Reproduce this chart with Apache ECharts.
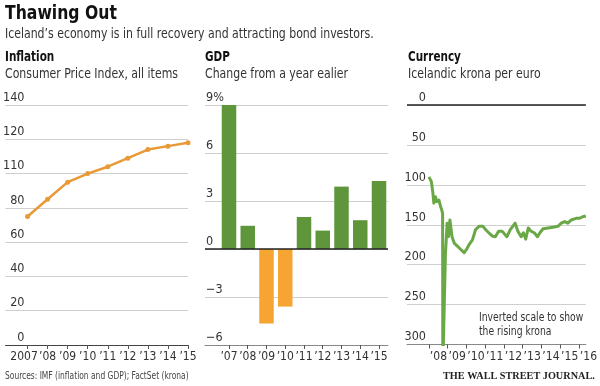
<!DOCTYPE html>
<html><head><meta charset="utf-8">
<script src="https://cdn.jsdelivr.net/npm/echarts@6/dist/echarts.min.js"></script>
<style>html,body{margin:0;padding:0;background:#fff}#c{width:600px;height:386px}</style>
</head><body><div id="c"></div>
<script>
// ---- data ----
const years = [2007, 2008, 2009, 2010, 2011, 2012, 2013, 2014, 2015];
const cpiYearLabels = ['2007', '’08', '’09', '’10', '’11', '’12', '’13', '’14', '’15'];
const cpi = [75, 85, 95, 100, 104, 109, 114, 116, 118];
const cpiTickValues = [0, 20, 40, 60, 80, 100, 120, 140];
const cpiTickLabels = ['0', '20', '40', '60', '80', '110', '120', '140'];

const gdpYearLabels = ['’07', '’08', '’09', '’10', '’11', '’12', '’13', '’14', '’15'];
const gdp = [9.5, 1.45, -4.65, -3.6, 2.0, 1.15, 3.9, 1.8, 4.25];

const fxTickYears = [2008, 2009, 2010, 2011, 2012, 2013, 2014, 2015, 2016];
const fxYearLabels = ['’08', '’09', '’10', '’11', '’12', '’13', '’14', '’15', '’16'];
const fxDates = [2008.00, 2008.13, 2008.21, 2008.26, 2008.35, 2008.42, 2008.53, 2008.62, 2008.68, 2008.73,
  2008.74, 2008.76, 2008.88, 2008.97, 2009.04, 2009.12, 2009.17, 2009.23, 2009.35, 2009.53,
  2009.70, 2009.88, 2010.00, 2010.14, 2010.32, 2010.49, 2010.67, 2010.76, 2010.88, 2011.02,
  2011.19, 2011.37, 2011.54, 2011.72, 2011.90, 2011.98, 2012.16, 2012.34, 2012.60, 2012.74,
  2012.92, 2013.04, 2013.16, 2013.30, 2013.44, 2013.62, 2013.79, 2013.92, 2014.09, 2014.36,
  2014.62, 2014.88, 2015.06, 2015.24, 2015.41, 2015.59, 2015.85, 2016.02, 2016.20, 2016.37];
const fxValues = [90, 96, 110, 123, 115, 121, 119, 127, 131, 136,
  330, 330, 187, 148, 165, 144, 142, 165, 173, 177,
  181, 185, 181, 175, 169, 156, 152, 154, 152, 156,
  160, 164, 165, 158, 158, 160, 165, 156, 148, 158,
  165, 160, 168, 154, 158, 160, 165, 160, 155, 154,
  153, 152, 148, 146, 148, 144, 142, 142, 140, 139];

// ---- style ----
const FONT = "'Liberation Sans Narrow', 'DejaVu Sans Condensed', 'Roboto', sans-serif";
const TXT = '#333';
const GRIDC = '#cfcfcf';
const ORANGE_LINE = '#e99a36';
const ORANGE_BAR = '#f6a532';
const GREEN_BAR = '#5f963c';
const GREEN_LINE = '#6aa847';

const chart = echarts.init(document.getElementById('c'), null, {renderer: 'canvas'});

const labelBase = {color: TXT, fontFamily: FONT, fontSize: 12};
const tickStyle = {show: true, length: 4, lineStyle: {color: '#555', width: 1}};

function txt(left, top, text, size, opts) {
  opts = opts || {};
  return {
    type: 'text', left: left, top: top,
    scaleX: opts.sx || 1, originX: 0,
    style: {
      text: text, fontFamily: opts.font || FONT, fontWeight: opts.bold ? 'bold' : 'normal',
      fontSize: size, lineHeight: opts.lh, fill: opts.fill || TXT
    }
  };
}

const option = {
  animation: false,
  backgroundColor: '#fff',
  textStyle: {fontFamily: FONT},
  grid: [
    {left: 4, right: 412, top: 105, bottom: 41},
    {left: 205, right: 212, top: 105, bottom: 41},
    {left: 407, right: 12, top: 105, bottom: 41.5}
  ],
  xAxis: [
    {
      gridIndex: 0, type: 'value', min: 2005.9, max: 2015, position: 'bottom',
      axisLine: {show: true, lineStyle: {color: '#444', width: 1}},
      axisTick: Object.assign({customValues: years}, tickStyle),
      axisLabel: Object.assign({}, labelBase, {
        customValues: years.slice(1), margin: 6, showMinLabel: true, showMaxLabel: true,
        formatter: v => cpiYearLabels[years.indexOf(Math.round(v))]
      }),
      splitLine: {show: false}
    },
    {
      gridIndex: 1, type: 'value', min: 2005.72, max: 2015.48,
      axisLine: {show: true, onZero: false, lineStyle: {color: '#888', width: 1}},
      axisTick: Object.assign({customValues: years}, tickStyle),
      axisLabel: Object.assign({}, labelBase, {
        customValues: years, margin: 6, showMinLabel: true, showMaxLabel: true,
        formatter: v => gdpYearLabels[years.indexOf(Math.round(v))]
      }),
      splitLine: {show: false}
    },
    {
      gridIndex: 2, type: 'value', min: 2006.83, max: 2016.37,
      axisLine: {show: true, onZero: false, lineStyle: {color: '#888', width: 1}},
      axisTick: Object.assign({customValues: fxTickYears}, tickStyle),
      axisLabel: Object.assign({}, labelBase, {
        customValues: fxTickYears, margin: 6, padding: [0, 0, 0, 19],
        showMinLabel: true, showMaxLabel: true,
        formatter: v => fxYearLabels[fxTickYears.indexOf(Math.round(v))]
      }),
      splitLine: {show: false}
    },
    {
      // first-year label of the inflation panel, on its own axis so it is never dropped
      gridIndex: 0, type: 'value', min: 2005.9, max: 2015, position: 'bottom', offset: 0,
      axisLine: {show: false}, axisTick: {show: false}, splitLine: {show: false},
      axisLabel: Object.assign({}, labelBase, {
        customValues: years.slice(0, 1), margin: 6, padding: [0, 7, 0, 0], showMinLabel: true,
        formatter: v => cpiYearLabels[years.indexOf(Math.round(v))]
      })
    }
  ],
  yAxis: [
    {
      gridIndex: 0, type: 'value', min: 0, max: 140, interval: 20,
      axisLine: {show: false}, axisTick: {show: false},
      axisLabel: Object.assign({}, labelBase, {
        fontSize: 12.5, align: 'right', verticalAlign: 'bottom', margin: -19, padding: [0, 0, 1, 0],
        formatter: v => cpiTickLabels[cpiTickValues.indexOf(v)]
      }),
      splitLine: {show: true, lineStyle: {color: GRIDC, width: 1}}
    },
    {
      gridIndex: 1, type: 'value', min: -6, max: 9, interval: 3,
      axisLine: {show: false}, axisTick: {show: false},
      axisLabel: Object.assign({}, labelBase, {
        fontSize: 12.5, align: 'left', verticalAlign: 'bottom', margin: -1, padding: [0, 0, 1, 0],
        formatter: v => v === 9 ? '9%' : (v < 0 ? '−' + Math.abs(v) : String(v))
      }),
      splitLine: {show: true, lineStyle: {color: GRIDC, width: 1}}
    },
    {
      gridIndex: 2, type: 'value', min: 0, max: 300, interval: 50, inverse: true,
      axisLine: {show: false}, axisTick: {show: false},
      axisLabel: Object.assign({}, labelBase, {
        fontSize: 12.5, align: 'right', verticalAlign: 'bottom', margin: -19, padding: [0, 0, 1, 0]
      }),
      splitLine: {show: true, lineStyle: {color: GRIDC, width: 1}}
    }
  ],
  series: [
    {
      type: 'line', xAxisIndex: 0, yAxisIndex: 0,
      data: years.map((y, i) => [y, cpi[i]]),
      symbol: 'circle', symbolSize: 5, showSymbol: true,
      lineStyle: {color: ORANGE_LINE, width: 2.5},
      itemStyle: {color: ORANGE_LINE}
    },
    {
      type: 'bar', xAxisIndex: 1, yAxisIndex: 1,
      data: years.map((y, i) => [y, gdp[i]]),
      barWidth: 14.5,
      itemStyle: {color: p => p.value[1] < 0 ? ORANGE_BAR : GREEN_BAR},
      markLine: {
        silent: true, symbol: 'none', label: {show: false},
        lineStyle: {color: '#222', width: 1.5, type: 'solid'},
        data: [{yAxis: 0}]
      }
    },
    {
      type: 'line', xAxisIndex: 2, yAxisIndex: 2,
      data: fxDates.map((d, i) => [d, fxValues[i]]),
      showSymbol: false, clip: true,
      lineStyle: {color: GREEN_LINE, width: 3, join: 'round'},
      markLine: {
        silent: true, symbol: 'none', label: {show: false},
        lineStyle: {color: '#222', width: 1.5, type: 'solid'},
        data: [{yAxis: 0}]
      }
    }
  ],
  graphic: [
    txt(5, 4, 'Thawing Out', 20, {bold: true, sx: 0.87, fill: '#111'}),
    txt(5, 27, 'Iceland’s economy is in full recovery and attracting bond investors.', 13.5, {sx: 0.9}),
    txt(5, 50, 'Inflation', 13.5, {bold: true, sx: 0.86, fill: '#111'}),
    txt(5, 67, 'Consumer Price Index, all items', 13.5, {sx: 0.9}),
    txt(205, 50, 'GDP', 13.5, {bold: true, sx: 0.86, fill: '#111'}),
    txt(205, 67, 'Change from a year ealier', 13.5, {sx: 0.9}),
    txt(408, 50, 'Currency', 13.5, {bold: true, sx: 0.86, fill: '#111'}),
    txt(408, 67, 'Icelandic krona per euro', 13.5, {sx: 0.9}),
    txt(479, 311, 'Inverted scale to show\nthe rising krona', 12.5, {sx: 0.82, lh: 13.5}),
    txt(5, 371, 'Sources: IMF (inflation and GDP); FactSet (krona)', 11, {sx: 0.76, fill: '#444'}),
    txt(443, 371, 'THE WALL STREET JOURNAL.', 11, {bold: true, sx: 0.93, fill: '#222', font: "'Liberation Serif', 'DejaVu Serif', serif"})
  ]
};
chart.setOption(option);
</script>
</body></html>
